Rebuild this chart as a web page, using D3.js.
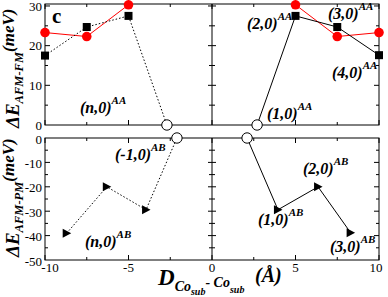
<!DOCTYPE html>
<html>
<head>
<meta charset="utf-8">
<script src="https://cdn.jsdelivr.net/npm/d3@7"></script>
<style>
body { margin: 0; background: #fff; }
text { font-family: "Liberation Serif", "DejaVu Serif", serif; }
</style>
</head>
<body>
<div id="chart"></div>
<script>
// ---- data ----
// top panel: AA stacking, dE(AFM-FM)
let redLeftX = [-10, -7.5, -5], redLeftY = [23.3, 22.3, 30.3];
let redRightX = [5, 7.5, 10], redRightY = [30.3, 22.3, 23.3];
let sqLeftX = [-10, -7.5, -5, -2.7], sqLeftY = [17.5, 24.7, 27.5, 0];
let sqRightX = [2.7, 5, 7.5, 10], sqRightY = [0, 27.5, 24.7, 17.6];
// bottom panel: AB stacking, dE(AFM-PM)
let triLeftX = [-8.7, -6.3, -3.95, -2.1], triLeftY = [-39, -20, -29.4, 0];
let triRightX = [2.1, 3.95, 6.35, 8.3], triRightY = [0, -29.4, -20, -38.8];

let xTicks = [-10, -5, 0, 5, 10];
let topTicks = [0, 10, 20, 30];
let botTicks = [0, -10, -20, -30, -40, -50];

let width = 388, height = 297;
let left = 45, right = 379;

let svg = d3.select("#chart").append("svg")
  .attr("width", width).attr("height", height);

let x = d3.scaleLinear().domain([-10, 10]).range([left, right]);
let yTop = d3.scaleLinear().domain([0, 30.5]).range([125, 4]);
let yBot = d3.scaleLinear().domain([-50, 0]).range([260, 138]);

// ---- frames and ticks ----
function panel(y, major, minor) {
  let g = svg.append("g");
  let [y0, y1] = y.range(); // bottom, top
  g.append("rect").attr("x", left).attr("y", y1).attr("width", right - left).attr("height", y0 - y1)
    .attr("fill", "none").attr("stroke", "#000").attr("stroke-width", 1);
  g.append("line").attr("x1", x(0)).attr("x2", x(0)).attr("y1", y1).attr("y2", y0)
    .attr("stroke", "#000");
  let xmaj = d3.range(-10, 10.1, 5), xmin = d3.range(-7.5, 10, 5);
  xmaj.forEach(v => {
    g.append("line").attr("x1", x(v)).attr("x2", x(v)).attr("y1", y0).attr("y2", y0 - 5).attr("stroke", "#000");
    g.append("line").attr("x1", x(v)).attr("x2", x(v)).attr("y1", y1).attr("y2", y1 + 5).attr("stroke", "#000");
  });
  xmin.forEach(v => {
    g.append("line").attr("x1", x(v)).attr("x2", x(v)).attr("y1", y0).attr("y2", y0 - 3).attr("stroke", "#000");
    g.append("line").attr("x1", x(v)).attr("x2", x(v)).attr("y1", y1).attr("y2", y1 + 3).attr("stroke", "#000");
  });
  major.forEach(v => {
    g.append("line").attr("x1", left).attr("x2", left + 5).attr("y1", y(v)).attr("y2", y(v)).attr("stroke", "#000");
    g.append("line").attr("x1", right).attr("x2", right - 5).attr("y1", y(v)).attr("y2", y(v)).attr("stroke", "#000");
    g.append("line").attr("x1", x(0) - 4).attr("x2", x(0) + 4).attr("y1", y(v)).attr("y2", y(v)).attr("stroke", "#000");
  });
  minor.forEach(v => {
    g.append("line").attr("x1", left).attr("x2", left + 3).attr("y1", y(v)).attr("y2", y(v)).attr("stroke", "#000");
    g.append("line").attr("x1", right).attr("x2", right - 3).attr("y1", y(v)).attr("y2", y(v)).attr("stroke", "#000");
    g.append("line").attr("x1", x(0) - 3).attr("x2", x(0) + 3).attr("y1", y(v)).attr("y2", y(v)).attr("stroke", "#000");
  });
}
panel(yTop, [10, 20, 30], [5, 15, 25]);
panel(yBot, [-10, -20, -30, -40], [-5, -15, -25, -35, -45]);

// tick labels
svg.selectAll(".yt").data(topTicks).enter().append("text")
  .attr("x", 42).attr("y", d => yTop(d) + (d == 30 ? 5.5 : 4.5)).attr("text-anchor", "end")
  .attr("font-size", 13).text(d => d);
svg.selectAll(".yb").data(botTicks).enter().append("text")
  .attr("x", 42).attr("y", d => yBot(d) + 5.5).attr("text-anchor", "end")
  .attr("font-size", 13).text(d => d);
svg.selectAll(".xt").data(xTicks).enter().append("text")
  .attr("x", d => x(d) + (d == -10 ? 5 : d == 10 ? -3 : 0)).attr("y", 272).attr("text-anchor", "middle")
  .attr("font-size", 13).text(d => d);

// ---- lines ----
let line = (xs, ys, y) => d3.line().x((d, i) => x(xs[i])).y((d, i) => y(ys[i]))(xs);

svg.append("path").attr("d", line(redLeftX, redLeftY, yTop)).attr("fill", "none").attr("stroke", "red");
svg.append("path").attr("d", line(redRightX, redRightY, yTop)).attr("fill", "none").attr("stroke", "red");
svg.append("path").attr("d", line(sqLeftX, sqLeftY, yTop)).attr("fill", "none").attr("stroke", "#000")
  .attr("stroke-dasharray", "1.5,2");
svg.append("path").attr("d", line(sqRightX, sqRightY, yTop)).attr("fill", "none").attr("stroke", "#000");
svg.append("path").attr("d", line(triLeftX, triLeftY, yBot)).attr("fill", "none").attr("stroke", "#000")
  .attr("stroke-dasharray", "1.5,2");
svg.append("path").attr("d", line(triRightX, triRightY, yBot)).attr("fill", "none").attr("stroke", "#000");

// ---- markers ----
redLeftX.concat(redRightX).forEach((v, i) => {
  let yv = redLeftY.concat(redRightY)[i];
  svg.append("circle").attr("cx", x(v)).attr("cy", yTop(yv)).attr("r", 4.8).attr("fill", "red");
});
let sqX = sqLeftX.slice(0, 3).concat(sqRightX.slice(1)), sqY = sqLeftY.slice(0, 3).concat(sqRightY.slice(1));
sqX.forEach((v, i) => {
  svg.append("rect").attr("x", x(v) - 4).attr("y", yTop(sqY[i]) - 4).attr("width", 8).attr("height", 8).attr("fill", "#000");
});
let trX = triLeftX.slice(0, 3).concat(triRightX.slice(1)), trY = triLeftY.slice(0, 3).concat(triRightY.slice(1));
trX.forEach((v, i) => {
  svg.append("path").attr("transform", `translate(${x(v)},${yBot(trY[i])})`)
    .attr("d", "M-4,-4.5L4.5,0L-4,4.5Z").attr("fill", "#000");
});
// open circles
[[sqLeftX[3], yTop(0)], [sqRightX[0], yTop(0)], [triLeftX[3], yBot(0)], [triRightX[0], yBot(0)]].forEach(p => {
  svg.append("circle").attr("cx", x(p[0])).attr("cy", p[1]).attr("r", 5.2)
    .attr("fill", "#fff").attr("stroke", "#000").attr("stroke-width", 1);
});

// ---- annotations ----
function label(px, py, main, sup) {
  let t = svg.append("text").attr("x", px).attr("y", py)
    .attr("font-weight", "bold").attr("font-style", "italic").attr("font-size", 16);
  t.append("tspan").text(main);
  t.append("tspan").attr("dy", -9).attr("font-size", 11).text(sup);
}
svg.append("text").attr("x", 52).attr("y", 23).attr("font-weight", "bold").attr("font-size", 21).text("c");
label(80, 113, "(n,0)", "AA");
label(247, 29, "(2,0)", "AA");
label(328, 19, "(3,0)", "AA");
label(332, 78, "(4,0)", "AA");
label(267, 119, "(1,0)", "AA");
label(115, 160, "(-1,0)", "AB");
label(85, 247, "(n,0)", "AB");
label(303, 174, "(2,0)", "AB");
label(258, 225, "(1,0)", "AB");
label(330, 252, "(3,0)", "AB");

// y axis titles
function yTitle(px, py, sub) {
  let t = svg.append("text").attr("transform", `translate(${px},${py}) rotate(-90)`)
    .attr("font-weight", "bold").attr("font-style", "italic");
  t.append("tspan").attr("font-size", 19).text("ΔE");
  t.append("tspan").attr("font-size", 12.5).attr("dy", 4).text(sub);
  t.append("tspan").attr("font-size", 17).attr("dy", -9).text("(meV)");
}
yTitle(19, 128, "AFM-FM");
yTitle(19, 257, "AFM-PM");

// x axis title
let xt = svg.append("text").attr("x", 158).attr("y", 285)
  .attr("font-weight", "bold").attr("font-style", "italic");
xt.append("tspan").attr("font-size", 23).text("D");
xt.append("tspan").attr("font-size", 14).attr("dy", 6).text("Co");
xt.append("tspan").attr("font-size", 10).attr("dy", 4).text("sub");
xt.append("tspan").attr("font-size", 14).attr("dy", -8).text("- Co");
xt.append("tspan").attr("font-size", 10).attr("dy", 6).text("sub");
svg.append("text").attr("x", 255).attr("y", 282)
  .attr("font-weight", "bold").attr("font-style", "italic").attr("font-size", 20).text("(Å)");
</script>
</body>
</html>
